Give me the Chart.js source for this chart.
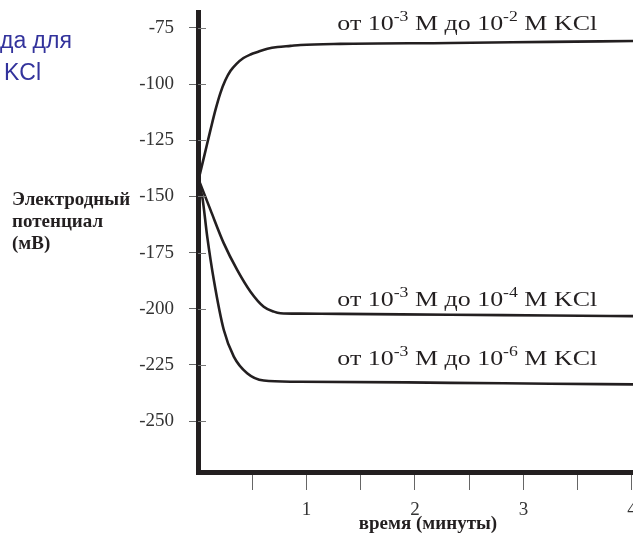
<!DOCTYPE html>
<html>
<head>
<meta charset="utf-8">
<script src="https://cdn.jsdelivr.net/npm/chart.js@4"></script>
<style>
  html, body { margin: 0; padding: 0; background: #fff; }
  #wrap { width: 633px; height: 533px; position: relative; }
</style>
</head>
<body>
<div id="wrap"><canvas id="potChart"></canvas></div>
<script>
// time in minutes, potential in mV
const time1 = [0, 0.06, 0.115, 0.161, 0.207, 0.253, 0.30, 0.355, 0.419, 0.484, 0.548, 0.64, 0.733, 0.853, 0.945, 1.313, 2.33, 3.25, 4.01];
const pot1  = [-143.5, -131.5, -120.4, -111.5, -103.9, -98.2, -94.1, -91.0, -88.4, -86.8, -85.7, -84.3, -83.5, -83.0, -82.6, -82.1, -81.7, -81.2, -80.8];

const time2 = [0, 0.115, 0.238, 0.361, 0.484, 0.606, 0.699, 0.76, 0.945, 1.313, 2.33, 3.25, 4.01];
const pot2  = [-141.8, -156.0, -170.9, -182.7, -192.4, -199.1, -201.3, -202.0, -202.2, -202.3, -202.7, -203.0, -203.3];

const time3 = [0, 0.039, 0.085, 0.146, 0.238, 0.33, 0.453, 0.606, 0.853, 0.945, 2.33, 3.25, 4.01];
const pot3  = [-143.5, -150.1, -167.9, -187.2, -209.5, -221.3, -228.7, -232.0, -232.5, -232.5, -233.0, -233.4, -233.7];

const yTicks = [-250, -225, -200, -175, -150, -125, -100, -75];
const xTicks = [0.5, 1, 1.5, 2, 2.5, 3, 3.5, 4];

// curve labels: plain / superscript pieces in turn
const seriesLabels = [
  ['от 10', '-3', ' M до 10', '-2', ' M KCl'],
  ['от 10', '-3', ' M до 10', '-4', ' M KCl'],
  ['от 10', '-3', ' M до 10', '-6', ' M KCl']
];

const yTitleLines = ['Электродный', 'потенциал', '(мВ)'];
const xTitle = 'время (минуты)';
const headerLines = ['да для', 'KCl'];

const ink = '#231f20';
const serif = '"Liberation Serif", "DejaVu Serif", serif';

function toPoints(xs, ys) {
  return xs.map((x, i) => ({ x: x, y: ys[i] }));
}

function lineSet(xs, ys) {
  return {
    data: toPoints(xs, ys),
    borderColor: ink,
    borderWidth: 2.6,
    pointRadius: 0,
    fill: false,
    cubicInterpolationMode: 'monotone'
  };
}

// draws "от 10^-3 M ..." right-aligned at (right, base), a bit stretched
function drawSupText(ctx, parts, right, base) {
  const big = '22px ' + serif;
  const small = '15px ' + serif;
  const stretch = 1.18;
  let w = 0;
  parts.forEach((p, i) => {
    ctx.font = i % 2 ? small : big;
    w += ctx.measureText(p).width;
  });
  ctx.save();
  ctx.translate(right - w * stretch, base);
  ctx.scale(stretch, 1);
  let x = 0;
  ctx.textAlign = 'left';
  ctx.textBaseline = 'alphabetic';
  parts.forEach((p, i) => {
    ctx.font = i % 2 ? small : big;
    ctx.fillText(p, x, i % 2 ? -9 : 0);
    x += ctx.measureText(p).width;
  });
  ctx.restore();
}

const extras = {
  id: 'extras',
  afterDraw(chart) {
    const ctx = chart.ctx;
    const xs = chart.scales.x;
    const ys = chart.scales.y;
    ctx.save();

    // short inner part of the y tick marks
    ctx.strokeStyle = '#777';
    ctx.lineWidth = 1;
    yTicks.forEach(v => {
      const py = Math.round(ys.getPixelForValue(v)) + 0.5;
      ctx.beginPath();
      ctx.moveTo(xs.left, py);
      ctx.lineTo(xs.left + 8, py);
      ctx.stroke();
    });

    ctx.fillStyle = ink;
    const right = xs.getPixelForValue(3.68);
    drawSupText(ctx, seriesLabels[0], right, ys.getPixelForValue(pot1[pot1.length - 1]) - 11);
    drawSupText(ctx, seriesLabels[1], right, ys.getPixelForValue(pot2[pot2.length - 1]) - 10);
    drawSupText(ctx, seriesLabels[2], right, ys.getPixelForValue(pot3[pot3.length - 1]) - 19);

    // x title, sits a little right of centre in the original
    ctx.font = 'bold 19px ' + serif;
    ctx.textAlign = 'center';
    ctx.fillText(xTitle, xs.getPixelForValue(2.12), 529);

    // y title, horizontal
    ctx.textAlign = 'left';
    yTitleLines.forEach((t, i) => {
      ctx.fillText(t, 12, 205 + i * 22);
    });

    // clipped header text on the left
    ctx.fillStyle = '#33339c';
    ctx.font = '23px "Liberation Sans", Arial, sans-serif';
    ctx.fillText(headerLines[0], 0, 48);
    ctx.fillText(headerLines[1], 4, 80);
    ctx.restore();
  }
};

new Chart(document.getElementById('potChart'), {
  type: 'line',
  data: {
    datasets: [lineSet(time1, pot1), lineSet(time2, pot2), lineSet(time3, pot3)]
  },
  options: {
    responsive: true,
    maintainAspectRatio: false,
    animation: false,
    layout: { padding: { top: 12, left: 0, right: 0, bottom: 0 } },
    plugins: { legend: { display: false }, tooltip: { enabled: false } },
    scales: {
      x: {
        type: 'linear',
        min: 0,
        max: 4.01,
        afterBuildTicks(scale) {
          scale.ticks = xTicks.map(v => ({ value: v }));
        },
        afterFit(scale) {
          scale.height = 61;
          scale.paddingLeft = 0;
          scale.paddingRight = 0;
        },
        border: { display: true, color: ink, width: 5 },
        grid: {
          drawOnChartArea: false,
          drawTicks: true,
          tickLength: 18,
          color: '#666',
          lineWidth: 1
        },
        ticks: {
          autoSkip: false,
          maxRotation: 0,
          padding: 9,
          color: '#333',
          font: { family: serif, size: 19 },
          callback: v => (Number.isInteger(v) ? String(v) : '')
        }
      },
      y: {
        type: 'linear',
        min: -272.7,
        max: -67.9,
        afterBuildTicks(scale) {
          scale.ticks = yTicks.map(v => ({ value: v }));
        },
        afterFit(scale) {
          scale.width = 198;
          scale.paddingTop = 0;
          scale.paddingBottom = 0;
        },
        border: { display: true, color: ink, width: 5 },
        grid: {
          drawOnChartArea: false,
          drawTicks: true,
          tickLength: 9,
          color: '#666',
          lineWidth: 1
        },
        ticks: {
          autoSkip: false,
          padding: 15,
          color: '#333',
          font: { family: serif, size: 19 }
        }
      }
    }
  },
  plugins: [extras]
});
</script>
</body>
</html>
